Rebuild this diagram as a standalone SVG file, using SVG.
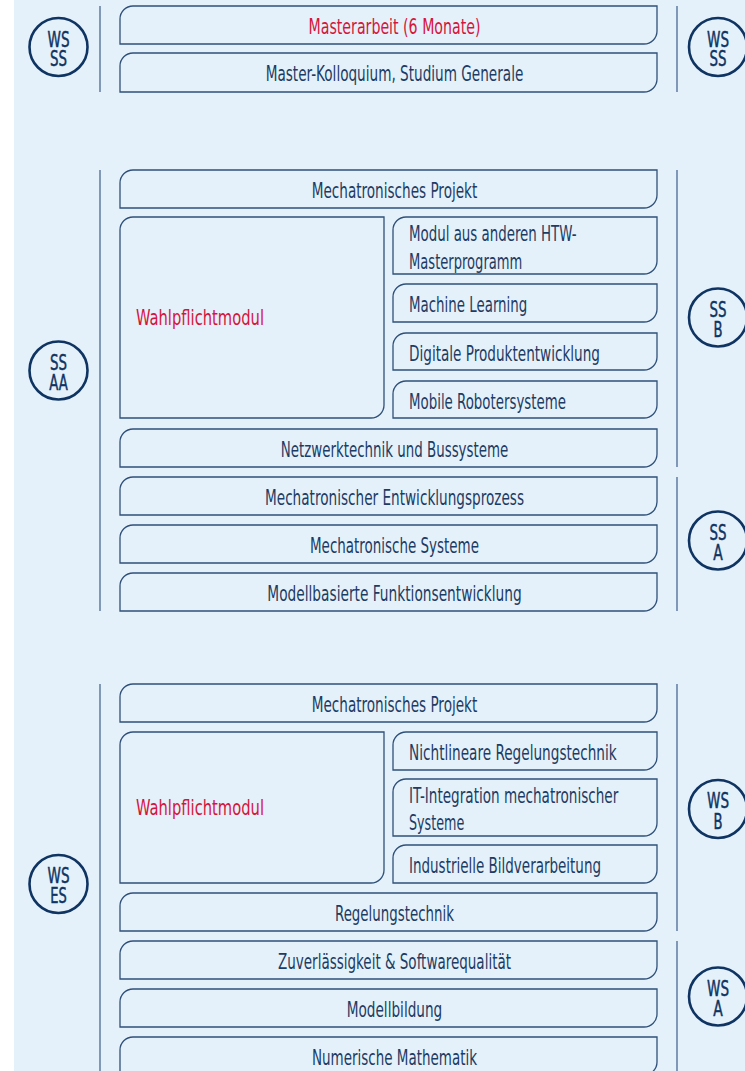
<svg xmlns="http://www.w3.org/2000/svg" width="745" height="1071" viewBox="0 0 745 1071">
<style>
.bg{fill:#e4f1fa}
.box{fill:none;stroke:#2f5079;stroke-width:1.3}
.t{font-family:"DejaVu Sans Condensed","DejaVu Sans",sans-serif;font-stretch:condensed;font-size:21.5px;fill:#1e3c63}
.c{text-anchor:middle}
.red{fill:#d6153c}
.ring{fill:none;stroke:#0f3462;stroke-width:2.6}
.ct{font-family:"DejaVu Sans Condensed","DejaVu Sans",sans-serif;font-stretch:condensed;font-size:22px;fill:#0f3462;stroke:#0f3462;stroke-width:0.5;text-anchor:middle}
.vl{stroke:#55739a;stroke-width:1.4;fill:none}
</style>
<rect x="0" y="0" width="745" height="1071" fill="#ffffff"/>
<rect class="bg" x="14" y="0" width="731" height="1071"/>

<g id="connectors">
<line class="vl" x1="100" y1="6" x2="100" y2="92"/>
<line class="vl" x1="677" y1="6" x2="677" y2="92"/>
<line class="vl" x1="100" y1="170" x2="100" y2="611"/>
<line class="vl" x1="677" y1="170" x2="677" y2="467"/>
<line class="vl" x1="677" y1="477" x2="677" y2="611"/>
<line class="vl" x1="100" y1="684" x2="100" y2="1071"/>
<line class="vl" x1="677" y1="684" x2="677" y2="931"/>
<line class="vl" x1="677" y1="941" x2="677" y2="1071"/>
</g>

<!-- Semester circles -->
<g id="c-ws-ss-l"><circle class="ring" cx="58.5" cy="47" r="29"/><text class="ct"><tspan x="58.5" y="46.5" textLength="22" lengthAdjust="spacingAndGlyphs">WS</tspan><tspan x="58.5" y="66" textLength="17" lengthAdjust="spacingAndGlyphs">SS</tspan></text></g>
<g id="c-ws-ss-r"><circle class="ring" cx="718" cy="47" r="29"/><text class="ct"><tspan x="718" y="46.5" textLength="22" lengthAdjust="spacingAndGlyphs">WS</tspan><tspan x="718" y="66" textLength="17" lengthAdjust="spacingAndGlyphs">SS</tspan></text></g>
<g id="c-ss-aa"><circle class="ring" cx="58.5" cy="370.5" r="29"/><text class="ct"><tspan x="58.5" y="369.5" textLength="17" lengthAdjust="spacingAndGlyphs">SS</tspan><tspan x="58.5" y="390" textLength="18.5" lengthAdjust="spacingAndGlyphs">AA</tspan></text></g>
<g id="c-ss-b"><circle class="ring" cx="718" cy="317.5" r="29"/><text class="ct"><tspan x="718" y="316.5" textLength="17" lengthAdjust="spacingAndGlyphs">SS</tspan><tspan x="718" y="337" textLength="9" lengthAdjust="spacingAndGlyphs">B</tspan></text></g>
<g id="c-ss-a"><circle class="ring" cx="718" cy="540.5" r="29"/><text class="ct"><tspan x="718" y="539.5" textLength="17" lengthAdjust="spacingAndGlyphs">SS</tspan><tspan x="718" y="560" textLength="9.5" lengthAdjust="spacingAndGlyphs">A</tspan></text></g>
<g id="c-ws-es"><circle class="ring" cx="58.5" cy="884" r="29"/><text class="ct"><tspan x="58.5" y="883" textLength="22" lengthAdjust="spacingAndGlyphs">WS</tspan><tspan x="58.5" y="903" textLength="16.5" lengthAdjust="spacingAndGlyphs">ES</tspan></text></g>
<g id="c-ws-b"><circle class="ring" cx="718" cy="809" r="29"/><text class="ct"><tspan x="718" y="808" textLength="22" lengthAdjust="spacingAndGlyphs">WS</tspan><tspan x="718" y="828.5" textLength="9" lengthAdjust="spacingAndGlyphs">B</tspan></text></g>
<g id="c-ws-a"><circle class="ring" cx="718" cy="996.5" r="29"/><text class="ct"><tspan x="718" y="995.5" textLength="22" lengthAdjust="spacingAndGlyphs">WS</tspan><tspan x="718" y="1016" textLength="9.5" lengthAdjust="spacingAndGlyphs">A</tspan></text></g>

<!-- Section 1 -->
<g id="n-masterarbeit"><path class="box" d="M120,44V19A13,13 0 0 1 133,6H657V31A13,13 0 0 1 644,44Z"/><text class="t c red" x="394.5" y="34" textLength="172" lengthAdjust="spacingAndGlyphs">Masterarbeit (6 Monate)</text></g>
<g id="n-kolloquium"><path class="box" d="M120,92V66A13,13 0 0 1 133,53H657V79A13,13 0 0 1 644,92Z"/><text class="t c" x="394.5" y="81" textLength="257.6" lengthAdjust="spacingAndGlyphs">Master-Kolloquium, Studium Generale</text></g>

<!-- Section 2 -->
<g id="n-projekt-ss"><path class="box" d="M120,208V183A13,13 0 0 1 133,170H657V195A13,13 0 0 1 644,208Z"/><text class="t c" x="394.5" y="198" textLength="165.6" lengthAdjust="spacingAndGlyphs">Mechatronisches Projekt</text></g>
<g id="n-wpm-ss"><path class="box" d="M120,418V230A13,13 0 0 1 133,217H384V405A13,13 0 0 1 371,418Z"/><text class="t red" x="136" y="325" textLength="128" lengthAdjust="spacingAndGlyphs">Wahlpflichtmodul</text></g>
<g id="n-htw"><path class="box" d="M393,274V230A13,13 0 0 1 406,217H657V261A13,13 0 0 1 644,274Z"/><text class="t" x="409" y="241" textLength="167.7" lengthAdjust="spacingAndGlyphs">Modul aus anderen HTW-</text><text class="t" x="409" y="268.5" textLength="113.3" lengthAdjust="spacingAndGlyphs">Masterprogramm</text></g>
<g id="n-ml"><path class="box" d="M393,322V297A13,13 0 0 1 406,284H657V309A13,13 0 0 1 644,322Z"/><text class="t" x="409" y="312" textLength="118.3" lengthAdjust="spacingAndGlyphs">Machine Learning</text></g>
<g id="n-dpe"><path class="box" d="M393,370V346A13,13 0 0 1 406,333H657V357A13,13 0 0 1 644,370Z"/><text class="t" x="409" y="360.5" textLength="191" lengthAdjust="spacingAndGlyphs">Digitale Produktentwicklung</text></g>
<g id="n-mrs"><path class="box" d="M393,418V394A13,13 0 0 1 406,381H657V405A13,13 0 0 1 644,418Z"/><text class="t" x="409" y="408.5" textLength="157" lengthAdjust="spacingAndGlyphs">Mobile Robotersysteme</text></g>
<g id="n-netz"><path class="box" d="M120,467V442A13,13 0 0 1 133,429H657V454A13,13 0 0 1 644,467Z"/><text class="t c" x="394.5" y="457" textLength="227.6" lengthAdjust="spacingAndGlyphs">Netzwerktechnik und Bussysteme</text></g>
<g id="n-mep"><path class="box" d="M120,515V490A13,13 0 0 1 133,477H657V502A13,13 0 0 1 644,515Z"/><text class="t c" x="394.5" y="505" textLength="259" lengthAdjust="spacingAndGlyphs">Mechatronischer Entwicklungsprozess</text></g>
<g id="n-ms"><path class="box" d="M120,563V538A13,13 0 0 1 133,525H657V550A13,13 0 0 1 644,563Z"/><text class="t c" x="394.5" y="553" textLength="169" lengthAdjust="spacingAndGlyphs">Mechatronische Systeme</text></g>
<g id="n-mbf"><path class="box" d="M120,611V586A13,13 0 0 1 133,573H657V598A13,13 0 0 1 644,611Z"/><text class="t c" x="394.5" y="601" textLength="254.4" lengthAdjust="spacingAndGlyphs">Modellbasierte Funktionsentwicklung</text></g>

<!-- Section 3 -->
<g id="n-projekt-ws"><path class="box" d="M120,722V697A13,13 0 0 1 133,684H657V709A13,13 0 0 1 644,722Z"/><text class="t c" x="394.5" y="712" textLength="165.6" lengthAdjust="spacingAndGlyphs">Mechatronisches Projekt</text></g>
<g id="n-wpm-ws"><path class="box" d="M120,883V745A13,13 0 0 1 133,732H384V870A13,13 0 0 1 371,883Z"/><text class="t red" x="136" y="815" textLength="128" lengthAdjust="spacingAndGlyphs">Wahlpflichtmodul</text></g>
<g id="n-nlr"><path class="box" d="M393,770V745A13,13 0 0 1 406,732H657V757A13,13 0 0 1 644,770Z"/><text class="t" x="409" y="760" textLength="207.7" lengthAdjust="spacingAndGlyphs">Nichtlineare Regelungstechnik</text></g>
<g id="n-iti"><path class="box" d="M393,836V792A13,13 0 0 1 406,779H657V823A13,13 0 0 1 644,836Z"/><text class="t" x="409" y="803" textLength="209.3" lengthAdjust="spacingAndGlyphs">IT-Integration mechatronischer</text><text class="t" x="409" y="829.5" textLength="55.3" lengthAdjust="spacingAndGlyphs">Systeme</text></g>
<g id="n-ibv"><path class="box" d="M393,883V858A13,13 0 0 1 406,845H657V870A13,13 0 0 1 644,883Z"/><text class="t" x="409" y="873" textLength="192" lengthAdjust="spacingAndGlyphs">Industrielle Bildverarbeitung</text></g>
<g id="n-rt"><path class="box" d="M120,931V906A13,13 0 0 1 133,893H657V918A13,13 0 0 1 644,931Z"/><text class="t c" x="394.5" y="921" textLength="119" lengthAdjust="spacingAndGlyphs">Regelungstechnik</text></g>
<g id="n-zsq"><path class="box" d="M120,979V954A13,13 0 0 1 133,941H657V966A13,13 0 0 1 644,979Z"/><text class="t c" x="394.5" y="969" textLength="233" lengthAdjust="spacingAndGlyphs">Zuverlässigkeit &amp; Softwarequalität</text></g>
<g id="n-mb"><path class="box" d="M120,1027V1002A13,13 0 0 1 133,989H657V1014A13,13 0 0 1 644,1027Z"/><text class="t c" x="394.5" y="1017" textLength="95.6" lengthAdjust="spacingAndGlyphs">Modellbildung</text></g>
<g id="n-nm"><path class="box" d="M120,1075V1050A13,13 0 0 1 133,1037H657V1062A13,13 0 0 1 644,1075Z"/><text class="t c" x="394.5" y="1065" textLength="165" lengthAdjust="spacingAndGlyphs">Numerische Mathematik</text></g>
</svg>
